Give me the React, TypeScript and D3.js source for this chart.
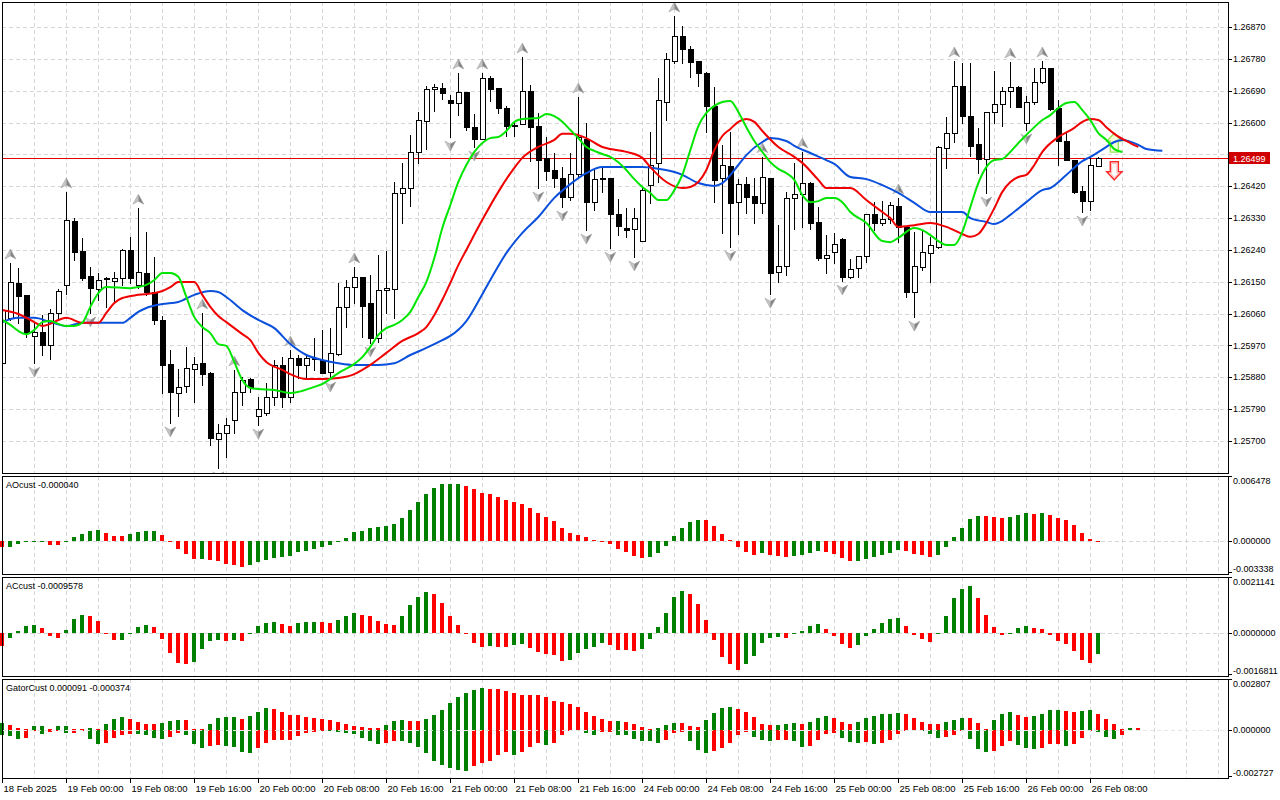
import * as d3 from 'd3'

const FONT = '"Liberation Sans", Arial, sans-serif'

// time axis: one label every 8 hourly bars
const timeLabels = [
  '18 Feb 2025', '19 Feb 00:00', '19 Feb 08:00', '19 Feb 16:00', '20 Feb 00:00', '20 Feb 08:00',
  '20 Feb 16:00', '21 Feb 00:00', '21 Feb 08:00', '21 Feb 16:00', '24 Feb 00:00', '24 Feb 08:00',
  '24 Feb 16:00', '25 Feb 00:00', '25 Feb 08:00', '25 Feb 16:00', '26 Feb 00:00', '26 Feb 08:00',
]

const priceTicks = [
  1.2687, 1.2678, 1.2669, 1.266, 1.2651, 1.2642, 1.2633, 1.2624, 1.2615, 1.2606, 1.2597, 1.2588, 1.2579, 1.257,
]
const lastPrice = 1.26499

// hourly candles
const open = [
  1.2592, 1.26048, 1.26147, 1.26113, 1.25997, 1.26008, 1.25971, 1.26062, 1.26141, 1.26322,
  1.26237, 1.26166, 1.2613, 1.26161, 1.26152, 1.26161, 1.2624, 1.26141, 1.26175, 1.26121,
  1.26042, 1.25918, 1.25836, 1.25855, 1.25904, 1.2592, 1.25892, 1.25706, 1.25723, 1.25759,
  1.25839, 1.25875, 1.25771, 1.25779, 1.25824, 1.25915, 1.25824, 1.25935, 1.25915, 1.25932,
  1.25929, 1.25895, 1.25946, 1.26079, 1.26135, 1.26164, 1.2609, 1.25991, 1.26127, 1.2613,
  1.26401, 1.26415, 1.26517, 1.26604, 1.26695, 1.26698, 1.26664, 1.26655, 1.26686, 1.26587,
  1.26553, 1.26726, 1.26698, 1.26641, 1.26593, 1.26596, 1.26689, 1.2659, 1.265, 1.26466,
  1.26443, 1.2639, 1.26455, 1.26553, 1.26375, 1.26443, 1.26443, 1.26342, 1.26302, 1.26299,
  1.26265, 1.26424, 1.26486, 1.26658, 1.26774, 1.26845, 1.26808, 1.26774, 1.2674, 1.26647,
  1.26443, 1.26477, 1.26375, 1.26426, 1.26392, 1.26373, 1.26443, 1.26178, 1.26195, 1.26387,
  1.26398, 1.26429, 1.26319, 1.26217, 1.26234, 1.26271, 1.26164, 1.26189, 1.26223, 1.26342,
  1.26316, 1.26327, 1.26364, 1.26305, 1.26121, 1.26192, 1.26231, 1.26248, 1.26528, 1.2657,
  1.26703, 1.26618, 1.26539, 1.26497, 1.2663, 1.26652, 1.26689, 1.267, 1.26599, 1.26658,
  1.26715, 1.26754, 1.26641, 1.26548, 1.26494, 1.26407, 1.26378, 1.26477,
]
const high = [
  1.26127, 1.26203, 1.26189, 1.26113, 1.26034, 1.26056, 1.26073, 1.2613, 1.26404, 1.2633,
  1.26274, 1.26192, 1.26175, 1.26164, 1.26178, 1.26243, 1.26277, 1.26358, 1.26291, 1.2622,
  1.26053, 1.25957, 1.25904, 1.25966, 1.25937, 1.26062, 1.25895, 1.25748, 1.25765, 1.25901,
  1.25881, 1.25878, 1.25824, 1.25864, 1.25929, 1.25937, 1.25957, 1.25943, 1.25946, 1.25991,
  1.26014, 1.26019, 1.26147, 1.26155, 1.26192, 1.26164, 1.26169, 1.26226, 1.26237, 1.26432,
  1.26486, 1.26565, 1.2663, 1.26703, 1.26709, 1.26712, 1.26678, 1.2674, 1.26686, 1.26624,
  1.2674, 1.26732, 1.26698, 1.26647, 1.26602, 1.26785, 1.26706, 1.26627, 1.26559, 1.26514,
  1.26474, 1.26514, 1.26672, 1.26599, 1.26466, 1.26472, 1.26443, 1.26384, 1.26358, 1.26358,
  1.26418, 1.26573, 1.26726, 1.26797, 1.26901, 1.26873, 1.26816, 1.26774, 1.26743, 1.267,
  1.26537, 1.26573, 1.2644, 1.26446, 1.26443, 1.26503, 1.26443, 1.2631, 1.26404, 1.26486,
  1.26517, 1.26432, 1.26361, 1.26282, 1.26288, 1.26274, 1.26214, 1.26223, 1.26342, 1.26375,
  1.26378, 1.26375, 1.26387, 1.26305, 1.26291, 1.26296, 1.26277, 1.26534, 1.26616, 1.26774,
  1.26768, 1.26768, 1.26585, 1.2663, 1.26746, 1.267, 1.26771, 1.26703, 1.26675, 1.26754,
  1.26774, 1.26754, 1.26664, 1.2657, 1.26494, 1.26421, 1.26503, 1.26503,
]
const low = [
  1.25915, 1.26042, 1.26034, 1.25994, 1.2592, 1.25943, 1.25932, 1.26042, 1.26115, 1.26212,
  1.26155, 1.26062, 1.26099, 1.26079, 1.26093, 1.26141, 1.26147, 1.26132, 1.26113, 1.26031,
  1.25836, 1.25751, 1.25771, 1.25839, 1.2581, 1.25858, 1.25689, 1.25624, 1.25655, 1.25723,
  1.25802, 1.25839, 1.25745, 1.25774, 1.25802, 1.25796, 1.2581, 1.25878, 1.25881, 1.25901,
  1.25892, 1.25878, 1.25943, 1.26022, 1.2609, 1.25994, 1.25977, 1.2598, 1.26062, 1.26048,
  1.26316, 1.26364, 1.26486, 1.26525, 1.26633, 1.26667, 1.26559, 1.26621, 1.26579, 1.26531,
  1.26553, 1.26661, 1.26627, 1.26562, 1.26562, 1.26596, 1.26491, 1.26415, 1.26438, 1.26418,
  1.26361, 1.26381, 1.26449, 1.26296, 1.26353, 1.26404, 1.26245, 1.26282, 1.26277, 1.2622,
  1.26265, 1.26373, 1.26432, 1.26607, 1.26768, 1.26768, 1.26729, 1.26703, 1.26573, 1.26375,
  1.26288, 1.26248, 1.26285, 1.26344, 1.26316, 1.26344, 1.26115, 1.26149, 1.26169, 1.26299,
  1.26305, 1.26299, 1.26212, 1.26175, 1.26203, 1.26152, 1.26161, 1.26164, 1.26206, 1.26296,
  1.2631, 1.26316, 1.26262, 1.26107, 1.2605, 1.26183, 1.26149, 1.26245, 1.26472, 1.26545,
  1.26599, 1.26505, 1.26457, 1.26401, 1.26599, 1.2659, 1.26644, 1.26644, 1.26579, 1.26652,
  1.26712, 1.26635, 1.2648, 1.26494, 1.26401, 1.26347, 1.26353, 1.26477,
]
const close = [
  1.2607, 1.26149, 1.2611, 1.26005, 1.26008, 1.25971, 1.26062, 1.26124, 1.26325, 1.26234,
  1.26161, 1.26132, 1.26155, 1.26158, 1.26161, 1.2624, 1.26161, 1.26178, 1.26121, 1.26042,
  1.25915, 1.25839, 1.25853, 1.25906, 1.25918, 1.25889, 1.25709, 1.25723, 1.25745, 1.25839,
  1.25872, 1.25853, 1.2579, 1.25824, 1.25915, 1.25824, 1.25935, 1.25915, 1.25935, 1.25935,
  1.25892, 1.25949, 1.26079, 1.26135, 1.26164, 1.26082, 1.25991, 1.26127, 1.26132, 1.26401,
  1.26415, 1.26517, 1.26607, 1.26695, 1.267, 1.26683, 1.26655, 1.26686, 1.26587, 1.26553,
  1.26726, 1.26695, 1.26641, 1.2659, 1.2659, 1.26689, 1.26587, 1.26494, 1.26463, 1.26443,
  1.2639, 1.26455, 1.26559, 1.26375, 1.2644, 1.2644, 1.26342, 1.26308, 1.26296, 1.2633,
  1.26409, 1.2648, 1.26664, 1.2678, 1.26845, 1.26808, 1.26771, 1.2674, 1.26647, 1.26438,
  1.2648, 1.26373, 1.26426, 1.2639, 1.26373, 1.26446, 1.26175, 1.26195, 1.26387, 1.26398,
  1.26429, 1.26316, 1.26217, 1.26226, 1.26257, 1.26164, 1.26186, 1.26223, 1.26342, 1.26316,
  1.26327, 1.26367, 1.26305, 1.26121, 1.26195, 1.26234, 1.26254, 1.26531, 1.2657, 1.26703,
  1.26618, 1.26534, 1.26497, 1.2663, 1.26652, 1.26689, 1.267, 1.26644, 1.26658, 1.26715,
  1.26754, 1.26638, 1.26548, 1.26494, 1.26404, 1.26378, 1.2648, 1.26499,
]

// bars carrying a fractal mark
const fractalUp = [1, 8, 17, 25, 29, 36, 44, 57, 60, 65, 72, 84, 95, 100, 112, 119, 126, 130]
const fractalDown = [4, 11, 21, 27, 32, 41, 46, 56, 59, 67, 70, 73, 76, 79, 91, 96, 105, 114, 123, 128, 135]

// alligator, read as [bar, price] (shifted lines run past the last bar)
const jaw: [number, number][] = [
  [0, 1.26036], [2, 1.26048], [4, 1.26048], [6, 1.26036], [8, 1.26025], [10, 1.26034], [15, 1.26034],
  [16, 1.26048], [17, 1.26065], [18, 1.26076], [20, 1.26087], [22, 1.26093], [24, 1.26113], [26, 1.26124],
  [27, 1.26121], [28, 1.26107], [30, 1.2607], [32, 1.26042], [34, 1.26019], [36, 1.25974], [38, 1.25943],
  [40, 1.25929], [42, 1.2592], [44, 1.25915], [47, 1.25915], [49, 1.2592], [51, 1.25943], [53, 1.25963],
  [55, 1.25985], [56, 1.25997], [58, 1.26039], [60, 1.26115], [61, 1.26155], [63, 1.26231], [65, 1.26288],
  [67, 1.26333], [69, 1.26387], [71, 1.26426], [73, 1.26457], [75, 1.26474], [78, 1.26474], [80, 1.26474],
  [82, 1.26469], [84, 1.2646], [85, 1.26452], [87, 1.26429], [89, 1.26421], [90, 1.26429], [92, 1.2648],
  [93, 1.26508], [95, 1.26545], [96, 1.26556], [98, 1.26548], [99, 1.26534], [101, 1.26514], [103, 1.26494],
  [104, 1.26483], [106, 1.26446], [108, 1.2644], [110, 1.26423], [112, 1.26401], [114, 1.26373],
  [116, 1.26347], [120, 1.26347], [121, 1.2633], [123, 1.26319], [124, 1.26313], [125, 1.26322],
  [126, 1.26339], [128, 1.26375], [130, 1.26409], [131, 1.26415], [133, 1.26452], [135, 1.26491],
  [136, 1.26503], [138, 1.26531], [139, 1.26545], [140, 1.26551], [142, 1.26537], [143, 1.26525], [145, 1.2652],
]
const teeth: [number, number][] = [
  [0, 1.2607], [2, 1.26059], [4, 1.26036], [5, 1.26025], [6, 1.26031], [7, 1.26042], [8, 1.26048],
  [10, 1.26034], [12, 1.26034], [13, 1.26062], [14, 1.2609], [15, 1.26104], [17, 1.26113], [19, 1.26118],
  [20, 1.26124], [21, 1.26135], [22, 1.26149], [24, 1.26149], [25, 1.26113], [26, 1.26079], [27, 1.26053],
  [28, 1.26036], [29, 1.26019], [30, 1.26002], [31, 1.25985], [32, 1.25949], [33, 1.25923], [35, 1.25901],
  [36, 1.25889], [38, 1.25875], [40, 1.25875], [42, 1.25878], [44, 1.25889], [45, 1.25901], [46, 1.25915],
  [48, 1.25949], [50, 1.25983], [52, 1.26005], [53, 1.26022], [54, 1.26056], [55, 1.26099], [56, 1.26147],
  [57, 1.26197], [58, 1.2624], [60, 1.26325], [62, 1.26404], [64, 1.26472], [65, 1.265], [67, 1.26531],
  [69, 1.26551], [70, 1.26568], [71, 1.26568], [73, 1.26556], [75, 1.26531], [76, 1.26525], [78, 1.26517],
  [80, 1.265], [81, 1.26474], [83, 1.26432], [85, 1.26415], [86, 1.26418], [88, 1.26466], [89, 1.26522],
  [90, 1.26562], [91, 1.26582], [92, 1.26602], [93, 1.2661], [94, 1.26602], [95, 1.26576], [97, 1.26531],
  [99, 1.26503], [100, 1.26486], [102, 1.26438], [103, 1.26415], [106, 1.26415], [108, 1.26381],
  [110, 1.26347], [111, 1.2633], [112, 1.26305], [114, 1.2631], [116, 1.26316], [118, 1.26305],
  [120, 1.26285], [121, 1.26277], [122, 1.26285], [123, 1.26316], [124, 1.26358], [125, 1.26404],
  [126, 1.26432], [127, 1.26446], [128, 1.26452], [129, 1.2648], [130, 1.26517], [132, 1.26559],
  [134, 1.26585], [135, 1.26602], [136, 1.2661], [137, 1.26607], [138, 1.26587], [139, 1.26568],
  [141, 1.26542], [142, 1.26531],
]
const lips: [number, number][] = [
  [0, 1.26042], [1, 1.26028], [2, 1.26011], [3, 1.26002], [4, 1.26014], [5, 1.26036], [6, 1.26039],
  [7, 1.26031], [8, 1.26025], [9, 1.26025], [10, 1.26034], [11, 1.26079], [12, 1.26118], [13, 1.26135],
  [16, 1.26132], [17, 1.26135], [18, 1.26141], [19, 1.26155], [20, 1.26175], [21, 1.26175], [22, 1.26164],
  [23, 1.26107], [24, 1.2605], [25, 1.26022], [26, 1.26005], [27, 1.25974], [28, 1.25969], [29, 1.25923],
  [30, 1.25872], [31, 1.2585], [32, 1.25847], [34, 1.25844], [36, 1.25836], [37, 1.25839], [39, 1.25853],
  [40, 1.25861], [42, 1.25892], [44, 1.25918], [45, 1.25937], [46, 1.25966], [47, 1.26], [48, 1.26019],
  [49, 1.26028], [50, 1.26042], [51, 1.26065], [52, 1.26107], [53, 1.26149], [54, 1.26217], [55, 1.26302],
  [56, 1.26367], [57, 1.26432], [58, 1.2648], [59, 1.26517], [60, 1.26542], [61, 1.26556], [62, 1.26559],
  [63, 1.26576], [64, 1.26602], [65, 1.2661], [67, 1.26613], [68, 1.26624], [69, 1.26618], [70, 1.26602],
  [71, 1.26579], [72, 1.26556], [73, 1.26531], [74, 1.2652], [75, 1.26511], [76, 1.26503], [77, 1.26488],
  [78, 1.26466], [79, 1.2644], [80, 1.26418], [81, 1.26401], [82, 1.26381], [83, 1.26381], [84, 1.26409],
  [85, 1.26452], [86, 1.26522], [87, 1.2659], [88, 1.26627], [89, 1.26647], [90, 1.26658], [91, 1.26661],
  [92, 1.2663], [93, 1.26587], [94, 1.26548], [95, 1.26517], [96, 1.26488], [97, 1.26469], [98, 1.26457],
  [99, 1.26438], [100, 1.26395], [101, 1.26375], [102, 1.26378], [103, 1.26387], [104, 1.26387],
  [105, 1.26375], [106, 1.26347], [108, 1.26316], [110, 1.26265], [111, 1.26262], [112, 1.26274],
  [114, 1.26302], [115, 1.26296], [116, 1.26282], [117, 1.26265], [118, 1.26254], [119, 1.26254],
  [120, 1.26291], [121, 1.26361], [122, 1.26429], [123, 1.26474], [124, 1.26494], [125, 1.26497],
  [126, 1.26517], [127, 1.26542], [128, 1.26565], [129, 1.26587], [130, 1.26607], [131, 1.26621],
  [132, 1.26641], [133, 1.26655], [134, 1.26658], [135, 1.26635], [136, 1.26607], [137, 1.2657],
  [138, 1.26551], [139, 1.26525], [140, 1.26517],
]

// signal arrows past the last bar: [bar, price at arrow tip]
const signalDown: [number, number][] = [[139, 1.26438]]
const signalUp: [number, number][] = [[139, 1.2657]]

const ao = [
  -0.000682, -0.000648, -0.000341, -0.000114, -0.000034, 0.000034, -0.000398, -0.000409, 0.000057, 0.000454,
  0.000795, 0.001136, 0.00125, 0.000909, 0.000568, 0.000545, 0.000795, 0.001022, 0.001136, 0.001159,
  0.000682, 0.000023, -0.000909, -0.001477, -0.002045, -0.002022, -0.002158, -0.002272, -0.002613, -0.002726,
  -0.002897, -0.002726, -0.002386, -0.002158, -0.001931, -0.001818, -0.001704, -0.00125, -0.001136, -0.000909,
  -0.000682, -0.00042, -0.000057, 0.000341, 0.000988, 0.001136, 0.001477, 0.00159, 0.001704, 0.001931,
  0.002647, 0.003522, 0.004464, 0.005339, 0.006055, 0.00644, 0.00647, 0.006478, 0.006248, 0.005907,
  0.005487, 0.005339, 0.005032, 0.004692, 0.004464, 0.004203, 0.003783, 0.003215, 0.00276, 0.002272,
  0.001511, 0.000943, 0.000682, 0.000454, 0.000114, 0.000034, -0.000307, -0.000875, -0.001216, -0.00167,
  -0.001897, -0.001784, -0.001329, -0.000534, 0.000568, 0.001511, 0.002158, 0.002386, 0.002363, 0.001704,
  0.000795, 0.000114, -0.000648, -0.001216, -0.00159, -0.001329, -0.00159, -0.001704, -0.001784, -0.00167,
  -0.00159, -0.001329, -0.001102, -0.001216, -0.001477, -0.001897, -0.0023, -0.00225, -0.002045, -0.0018,
  -0.00156, -0.00133, -0.00105, -0.001102, -0.001443, -0.00159, -0.001784, -0.00159, -0.000648, 0.000454,
  0.001477, 0.0025, 0.00285, 0.00284, 0.002726, 0.002613, 0.002726, 0.002954, 0.003181, 0.003067,
  0.00319, 0.002954, 0.002613, 0.002386, 0.001818, 0.000909, 0.000227, -0.00004,
]
const ac = [
  -0.0005857, -0.0002117, 0.0000901, 0.0003289, 0.0003604, 0.0002253, -0.0001216, -0.0002117, 0.0001352, 0.0006307,
  0.0007974, 0.0007659, 0.0005406, -0.0000135, -0.0003154, -0.0003063, 0.0000135, 0.0002703, 0.0003604, 0.0002703,
  -0.0002703, -0.000901, -0.0013515, -0.0013966, -0.0013065, -0.0007208, -0.0003604, -0.0003154, -0.0003604, -0.0003154,
  -0.0003604, -0.0000135, 0.0003289, 0.0004505, 0.0004956, 0.0004055, 0.0003154, 0.0004505, 0.0004956, 0.0005046,
  0.0004956, 0.0004505, 0.0005857, 0.0007794, 0.000901, 0.0007974, 0.0007659, 0.0005406, 0.0004055, 0.0003829,
  0.0007659, 0.0012614, 0.0016218, 0.0018471, 0.001757, 0.0013515, 0.0007659, 0.0003604, 0.0000135, -0.000437,
  -0.0006172, -0.0005721, -0.0006172, -0.0006217, -0.0005271, -0.000482, -0.0006622, -0.0008424, -0.0009325, -0.0009776,
  -0.0012479, -0.0012028, -0.0008875, -0.0007073, -0.0006172, -0.000437, -0.0005271, -0.0007523, -0.0007568, -0.0007974,
  -0.0007073, -0.0002568, 0.0002703, 0.000901, 0.0016218, 0.0018921, 0.001757, 0.0013065, 0.0005857, -0.0003018,
  -0.0010677, -0.001383, -0.0016811, -0.001383, -0.0010226, -0.000437, -0.0002117, -0.0001667, -0.0002117, -0.0000135,
  0.0000901, 0.0003154, 0.0004055, 0.0001802, -0.0001352, -0.000482, -0.0006622, -0.0005271, -0.0001352, 0.0001802,
  0.0004505, 0.0006307, 0.0006758, 0.0003154, -0.0000901, -0.0002703, -0.0003919, -0.0000225, 0.0007659, 0.0015768,
  0.0019822, 0.0021141, 0.0015768, 0.0008109, 0.0002703, -0.0000901, -0.0000315, 0.0002253, 0.0003154, 0.0002253,
  0.0001802, -0.0000901, -0.0003604, -0.0004956, -0.0008109, -0.0012164, -0.0013515, -0.0009578,
]
const gatorUp = [
  0.00042, 0.000313, 0.000133, 0.000067, 0.000247, 0.000253, 0.000067, 0.000247, 0.000253, 0.000067,
  0.00006, 0.000133, 0.000067, 0.00038, 0.000714, 0.000847, 0.000714, 0.000534, 0.00038, 0.000374,
  0.000447, 0.00058, 0.000647, 0.00064, 0.000067, 0.000047, 0.00038, 0.00078, 0.000847, 0.000854,
  0.000714, 0.000914, 0.001154, 0.001447, 0.001381, 0.001181, 0.00098, 0.000974, 0.000847, 0.0008,
  0.000714, 0.000647, 0.000514, 0.00038, 0.000247, 0.00018, 0.000113, 0.000107, 0.000313, 0.0006,
  0.000667, 0.0006, 0.000594, 0.000734, 0.000954, 0.001334, 0.001801, 0.002201, 0.002468, 0.002668,
  0.002807, 0.002735, 0.002728, 0.002601, 0.002468, 0.002335, 0.002328, 0.002321, 0.002154, 0.001934,
  0.001868, 0.001714, 0.001534, 0.001201, 0.000934, 0.000734, 0.0006, 0.000607, 0.000534, 0.0004,
  0.0002, 0.000067, 0.000133, 0.000334, 0.000467, 0.00046, 0.000267, 0.0002, 0.000667, 0.001134,
  0.001467, 0.001534, 0.001401, 0.001201, 0.000867, 0.0004, 0.000334, 0.00034, 0.0004, 0.000467,
  0.0004, 0.000534, 0.0008, 0.000934, 0.0008, 0.000534, 0.0004, 0.000534, 0.0008, 0.000934,
  0.001067, 0.001074, 0.001134, 0.001021, 0.0008, 0.000534, 0.0004, 0.000394, 0.000534, 0.000667,
  0.0008, 0.000794, 0.000467, 0.000067, 0.000667, 0.001067, 0.001201, 0.001001, 0.000867, 0.000934,
  0.001067, 0.001334, 0.001341, 0.001267, 0.001201, 0.001267, 0.001334, 0.001067, 0.000734, 0.0004,
  0.000067, 0.000133, 0.000091,
]
const gatorDown = [
  -0.000354, -0.0004, -0.0006, -0.000534, -0.000033, -0.000267, -0.000133, -0.000087, -0.0002, -0.000193,
  -0.00002, -0.0006, -0.000934, -0.000867, -0.000534, -0.000354, -0.000267, -0.000273, -0.000354, -0.000534,
  -0.0006, -0.000467, -0.0002, -0.000334, -0.000934, -0.001201, -0.001067, -0.001047, -0.001067, -0.001134,
  -0.001467, -0.001534, -0.001201, -0.000867, -0.000687, -0.000667, -0.00066, -0.0004, -0.0002, -0.000133,
  -0.000047, -0.000067, -0.000133, -0.0002, -0.000267, -0.000534, -0.000734, -0.000934, -0.000867, -0.000734,
  -0.000747, -0.000867, -0.001134, -0.001581, -0.002068, -0.002335, -0.002535, -0.002668, -0.002727, -0.002401,
  -0.002248, -0.002068, -0.001668, -0.001514, -0.001668, -0.001514, -0.001181, -0.000914, -0.001001, -0.000867,
  -0.00038, -0.000113, -0.000067, -0.000247, -0.000334, -0.00018, -0.000173, -0.00038, -0.000387, -0.0006,
  -0.00078, -0.000787, -0.000914, -0.000714, -0.000247, -0.00018, -0.00078, -0.001381, -0.001581, -0.001447,
  -0.001247, -0.000914, -0.00038, -0.00018, -0.000514, -0.000714, -0.00078, -0.000714, -0.000667, -0.00078,
  -0.001181, -0.001114, -0.000714, -0.000313, -0.000247, -0.00058, -0.000847, -0.000914, -0.000847, -0.00098,
  -0.000914, -0.000667, -0.000313, -0.000113, -0.000047, -0.000053, -0.000313, -0.00058, -0.000514, -0.00038,
  -0.000047, -0.000647, -0.001314, -0.001514, -0.001447, -0.001114, -0.00078, -0.001047, -0.001247, -0.001314,
  -0.001247, -0.00098, -0.000974, -0.001114, -0.00098, -0.00058, -0.000113, -0.00018, -0.000514, -0.000647,
  -0.000374,
]

const PLOT_L = 2
const PLOT_R = 1228
const panels = [
  { top: 2, bottom: 473 },
  { top: 476, bottom: 574 },
  { top: 577, bottom: 676 },
  { top: 679, bottom: 778 },
]
const GREEN = '#008000'
const RED = '#ff0000'
const GRID = '#d6d6d6'

const x = d3.scaleLinear().domain([0, 137]).range([2.33, 1098.33])
const yMain = d3.scaleLinear().domain([1.257, 1.2687]).range([441, 27])
const yAO = d3.scaleLinear().domain([-0.003338, 0.006478]).range([570.4, 484])
const yAC = d3.scaleLinear().domain([-0.0016811, 0.0021141]).range([670.3, 586.1])
const yGator = d3.scaleLinear().domain([-0.002727, 0.002807]).range([770.5, 687.7])

const px = (i: number) => Math.round(x(i))

const risingColor = (vals: number[], i: number, first: string) => {
  if (i === 0) return first
  return Math.abs(vals[i]) > Math.abs(vals[i - 1]) ? GREEN : RED
}
const aoColor = (vals: number[], i: number) => (i === 0 ? RED : vals[i] > vals[i - 1] ? GREEN : RED)

function Histogram({ values, scale, color }: { values: number[]; scale: d3.ScaleLinear<number, number>; color: (i: number) => string }) {
  const zero = Math.round(scale(0))
  return (
    <g shapeRendering="crispEdges">
      {values.map((v, i) => {
        const yv = Math.round(scale(v))
        const h = Math.max(1, Math.abs(yv - zero))
        return <rect key={i} x={px(i) - 2} width={4} y={Math.min(yv, zero)} height={h} fill={color(i)} />
      })}
    </g>
  )
}

function FractalMark({ cx, cy, up }: { cx: number; cy: number; up: boolean }) {
  const s = up ? 1 : -1
  return (
    <g transform={`translate(${cx},${cy}) scale(1,${s})`}>
      <path d="M0,-5 L-5.5,5 L0,2 Z" fill="#c4c4c4" />
      <path d="M0,-5 L5.5,5 L0,2 Z" fill="#858585" />
      <path d="M0,-5 L-5.5,5 L0,2 L5.5,5 Z" fill="none" stroke="#9a9a9a" strokeWidth={0.5} />
    </g>
  )
}

export default function App() {
  const lineGen = d3
    .line<[number, number]>()
    .x((d) => x(d[0]))
    .y((d) => yMain(d[1]))
    .curve(d3.curveMonotoneX)

  const gridXs = d3.range(4, 160, 4).map(px).filter((v) => v < PLOT_R - 4)
  const priceY = Math.round(yMain(lastPrice)) + 0.5

  const axisLabel = (tickY: number, labelY: number, text: string, key: string) => (
    <g key={key}>
      <line x1={PLOT_R} x2={PLOT_R + 4} y1={Math.round(tickY) + 0.5} y2={Math.round(tickY) + 0.5} stroke="#000" />
      <text x={PLOT_R + 5} y={labelY} dy="0.35em" fontSize={9} fontFamily={FONT} fill="#000">
        {text}
      </text>
    </g>
  )

  const indicatorAxis = (p: { top: number; bottom: number }, scale: d3.ScaleLinear<number, number>, maxT: string, minT: string, zeroT: string) => [
    axisLabel(p.top, p.top + 5, maxT, 'max'),
    axisLabel(scale(0), scale(0), zeroT, 'zero'),
    axisLabel(p.bottom - 2, p.bottom - 5.5, minT, 'min'),
  ]

  return (
    <svg width={1280} height={800} style={{ position: 'absolute', left: 0, top: 0, background: '#fff' }} fontFamily={FONT}>
      <defs>
        <clipPath id="mainClip">
          <rect x={PLOT_L} y={panels[0].top} width={PLOT_R - PLOT_L} height={panels[0].bottom - panels[0].top} />
        </clipPath>
      </defs>
      <rect width={1280} height={800} fill="#fff" />

      {/* grid */}
      <g stroke={GRID} strokeDasharray="4,3" shapeRendering="crispEdges">
        {panels.map((p, pi) =>
          gridXs.map((gx) => <line key={`${pi}-${gx}`} x1={gx + 0.5} x2={gx + 0.5} y1={p.top} y2={p.bottom} />)
        )}
        {priceTicks.map((t) => (
          <line key={t} x1={PLOT_L} x2={PLOT_R} y1={Math.round(yMain(t)) + 0.5} y2={Math.round(yMain(t)) + 0.5} />
        ))}
        <line x1={PLOT_L} x2={PLOT_R} y1={Math.round(yAO(0)) + 0.5} y2={Math.round(yAO(0)) + 0.5} />
        <line x1={PLOT_L} x2={PLOT_R} y1={Math.round(yAC(0)) + 0.5} y2={Math.round(yAC(0)) + 0.5} />
      </g>

      {/* main chart */}
      <g clipPath="url(#mainClip)">
        <line x1={PLOT_L} x2={PLOT_R} y1={priceY} y2={priceY} stroke="#e00000" shapeRendering="crispEdges" />
        <g shapeRendering="crispEdges">
          {close.map((c, i) => {
            const o = open[i]
            const cx = px(i) + 0.5
            const yTop = Math.round(yMain(Math.max(o, c)))
            const yBot = Math.round(yMain(Math.min(o, c)))
            return (
              <g key={i}>
                <line x1={cx} x2={cx} y1={Math.round(yMain(high[i]))} y2={Math.round(yMain(low[i])) + 1} stroke="#000" />
                {yBot - yTop < 1 ? (
                  <line x1={cx - 3} x2={cx + 3} y1={yTop + 0.5} y2={yTop + 0.5} stroke="#000" />
                ) : (
                  <rect x={cx - 2.5} y={yTop + 0.5} width={5} height={yBot - yTop} fill={c >= o ? '#fff' : '#000'} stroke="#000" />
                )}
              </g>
            )
          })}
        </g>
        {fractalUp.map((b) => (
          <FractalMark key={`u${b}`} cx={x(b)} cy={yMain(high[b]) - 9} up />
        ))}
        {fractalDown.map((b) => (
          <FractalMark key={`d${b}`} cx={x(b)} cy={yMain(low[b]) + 9} up={false} />
        ))}
        {signalUp.map(([b, p]) => (
          <g key={`su${b}`} transform={`translate(${x(b)},${yMain(p)})`}>
            <path d="M0,0 L7.5,8 L4,8 L4,19 L-4,19 L-4,8 L-7.5,8 Z" fill="#f4ffd8" stroke="#9be35a" strokeWidth={1.4} />
          </g>
        ))}
        {signalDown.map(([b, p]) => (
          <g key={`sd${b}`} transform={`translate(${x(b)},${yMain(p)})`}>
            <path d="M0,0 L7.5,-8 L4,-8 L4,-18 L-4,-18 L-4,-8 L-7.5,-8 Z" fill="#fff" stroke="#ff2b2b" strokeWidth={1.5} />
            <path d="M0,-2.6 L4.8,-7 L2.6,-7 L2.6,-16.5 L-2.6,-16.5 L-2.6,-7 L-4.8,-7 Z" fill="none" stroke="#ffb4b4" strokeWidth={1} />
          </g>
        ))}
        <g fill="none" strokeWidth={2} strokeLinejoin="round">
          <path d={lineGen(jaw) ?? ''} stroke="#0a50dc" />
          <path d={lineGen(teeth) ?? ''} stroke="#f00000" />
          <path d={lineGen(lips) ?? ''} stroke="#00e600" />
        </g>
      </g>

      {/* indicators */}
      <Histogram values={ao} scale={yAO} color={(i) => aoColor(ao, i)} />
      <Histogram values={ac} scale={yAC} color={(i) => aoColor(ac, i)} />
      <Histogram values={gatorUp} scale={yGator} color={(i) => risingColor(gatorUp, i, GREEN)} />
      <Histogram values={gatorDown} scale={yGator} color={(i) => risingColor(gatorDown, i, GREEN)} />
      <line
        x1={PLOT_L}
        x2={PLOT_R}
        y1={Math.round(yGator(0)) + 0.5}
        y2={Math.round(yGator(0)) + 0.5}
        stroke="#e6e6e6"
        strokeDasharray="4,3"
        shapeRendering="crispEdges"
      />

      <g fontSize={9} fill="#000">
        <text x={6} y={panels[1].top + 12}>AOcust -0.000040</text>
        <text x={6} y={panels[2].top + 12}>ACcust -0.0009578</text>
        <text x={6} y={panels[3].top + 12}>GatorCust 0.000091 -0.000374</text>
      </g>

      {/* frames */}
      <g fill="none" stroke="#000" shapeRendering="crispEdges">
        {panels.map((p, i) => (
          <rect key={i} x={PLOT_L + 0.5} y={p.top + 0.5} width={PLOT_R - PLOT_L} height={p.bottom - p.top} />
        ))}
      </g>

      {/* right axis */}
      <g>
        {priceTicks.map((t) => axisLabel(yMain(t), yMain(t), t.toFixed(5), `p${t}`))}
        {indicatorAxis(panels[1], yAO, '0.006478', '-0.003338', '0.000000')}
        {indicatorAxis(panels[2], yAC, '0.0021141', '-0.0016811', '0.0000000')}
        {indicatorAxis(panels[3], yGator, '0.002807', '-0.002727', '0.000000')}
        <rect x={PLOT_R + 1} y={priceY - 6.5} width={41} height={12} fill="#d00000" />
        <text x={PLOT_R + 5} y={priceY} dy="0.35em" fontSize={9} fill="#fff">
          {lastPrice.toFixed(5)}
        </text>
      </g>

      {/* time axis */}
      <g fontSize={9.5} fill="#000">
        {timeLabels.map((t, k) => {
          const tx = px(k * 8) + 0.5
          return (
            <g key={t}>
              <line x1={tx} x2={tx} y1={panels[3].bottom} y2={panels[3].bottom + 5} stroke="#000" shapeRendering="crispEdges" />
              <text x={tx + 1} y={792}>
                {t}
              </text>
            </g>
          )
        })}
      </g>
    </svg>
  )
}
